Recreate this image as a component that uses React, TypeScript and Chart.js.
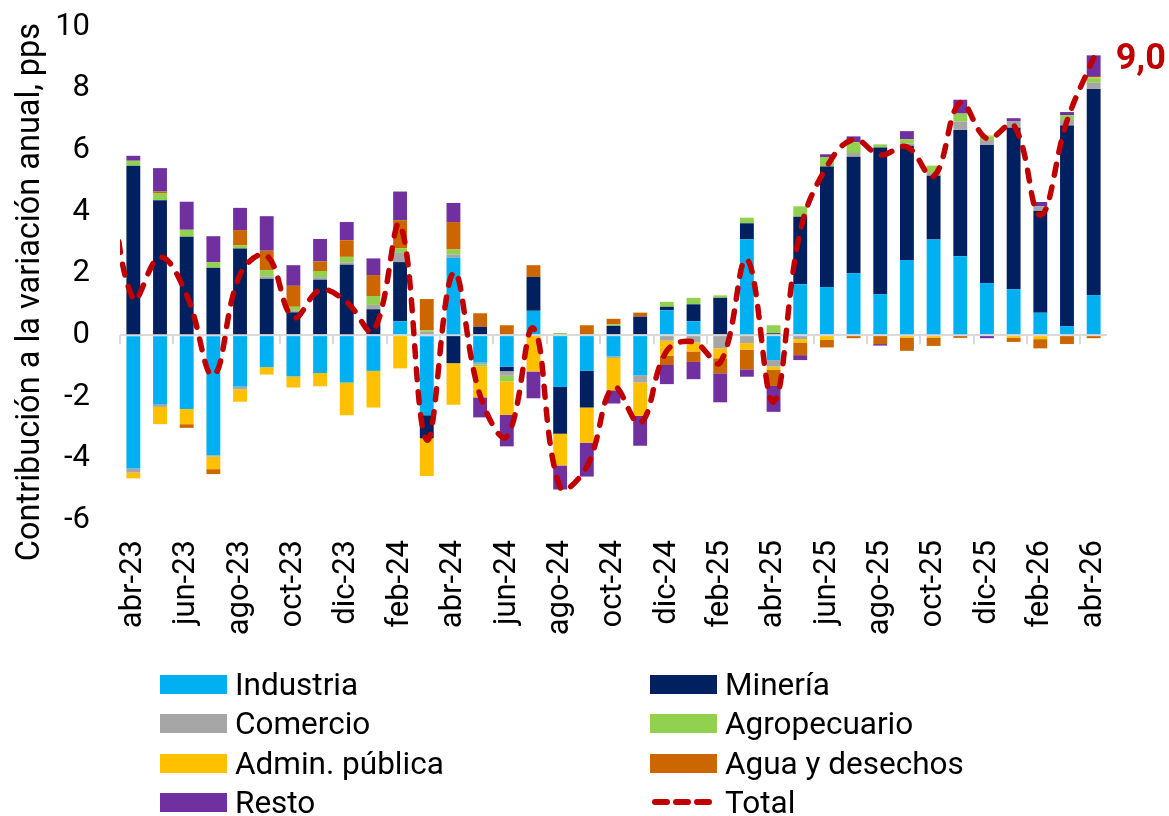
import React, { useEffect, useRef } from 'react';
import { Chart, registerables } from 'chart.js';

Chart.register(...registerables);

const FONT = 'Roboto, "Noto Sans", "DejaVu Sans", sans-serif';

const months = [
  'abr-23', 'may-23', 'jun-23', 'jul-23', 'ago-23', 'sep-23', 'oct-23', 'nov-23', 'dic-23',
  'ene-24', 'feb-24', 'mar-24', 'abr-24', 'may-24', 'jun-24', 'jul-24', 'ago-24', 'sep-24',
  'oct-24', 'nov-24', 'dic-24', 'ene-25', 'feb-25', 'mar-25', 'abr-25', 'may-25', 'jun-25',
  'jul-25', 'ago-25', 'sep-25', 'oct-25', 'nov-25', 'dic-25', 'ene-26', 'feb-26', 'mar-26', 'abr-26',
];

const industria = [
  -4.33, -2.24, -2.40, -3.90, -1.67, -1.04, -1.34, -1.23, -1.54, -1.16, 0.45, -2.60, 2.51,
  -0.89, -1.02, 0.79, -1.68, -1.16, -0.69, -1.30, 0.81, 0.45, 0.0, 3.11, -0.81, 1.65, 1.56,
  2.01, 1.33, 2.44, 3.10, 2.56, 1.69, 1.49, 0.73, 0.29, 1.30,
];
const mineria = [
  5.50, 4.38, 3.19, 2.19, 2.81, 1.83, 0.74, 1.80, 2.28, 0.84, 1.92, -0.75, -0.91,
  0.27, -0.15, 1.10, -1.52, -1.19, 0.30, 0.60, 0.11, 0.55, 1.21, 0.52, 0.06, 2.19, 3.91,
  3.78, 4.76, 3.71, 2.07, 4.10, 4.48, 5.24, 3.31, 6.51, 6.69,
];
const comercio = [
  -0.13, -0.09, 0.0, -0.04, -0.09, 0.08, 0.05, 0.08, 0.08, 0.14, 0.30, 0.11, 0.11,
  -0.06, -0.15, 0.0, 0.0, 0.0, -0.05, -0.24, -0.18, -0.24, -0.43, -0.26, -0.21, -0.13, 0.0,
  0.12, 0.0, 0.07, 0.09, 0.27, 0.16, 0.22, 0.14, 0.21, 0.20,
];
const agropecuario = [
  0.16, 0.23, 0.23, 0.18, 0.10, 0.20, 0.13, 0.20, 0.18, 0.29, 0.15, 0.05, 0.16,
  -0.06, -0.18, 0.0, 0.07, 0.0, 0.05, 0.0, 0.16, 0.21, 0.08, 0.18, 0.26, 0.34, 0.31,
  0.35, 0.10, 0.14, 0.24, 0.26, 0.12, 0.0, 0.0, 0.13, 0.15,
];
const adminPublica = [
  -0.19, -0.56, -0.49, -0.41, -0.40, -0.24, -0.36, -0.43, -1.06, -1.19, -1.08, -1.22, -1.35,
  -1.01, -1.09, -1.18, -1.03, -1.14, -1.05, -1.08, -0.49, -0.29, -0.32, -0.21, -0.11, -0.11, -0.15,
  0.0, 0.0, -0.08, -0.08, 0.0, 0.03, -0.08, -0.13, 0.0, 0.04,
];
const aguaDesechos = [
  0.0, 0.05, -0.12, -0.16, 0.50, 0.63, 0.68, 0.31, 0.54, 0.68, 0.91, 1.01, 0.89,
  0.44, 0.32, 0.38, 0.0, 0.32, 0.18, 0.13, -0.30, -0.34, -0.49, -0.64, -0.52, -0.41, -0.25,
  -0.10, -0.29, -0.43, -0.27, -0.09, 0.0, -0.14, -0.30, -0.29, -0.10,
];
const resto = [
  0.16, 0.76, 0.91, 0.84, 0.72, 1.12, 0.67, 0.73, 0.59, 0.54, 0.93, 0.0, 0.62,
  -0.65, -1.02, -0.87, -0.78, -1.10, -0.43, -0.97, -0.62, -0.56, -0.94, -0.24, -0.84, -0.16, 0.09,
  0.19, -0.05, 0.26, 0.0, 0.45, -0.10, 0.09, 0.14, 0.10, 0.70,
];
const total = [
  1.17, 2.53, 1.30, -1.30, 1.97, 2.58, 0.57, 1.46, 1.07, 0.14, 3.58, -3.40, 2.03,
  -1.96, -3.29, 0.22, -4.94, -4.27, -1.69, -2.86, -0.51, -0.22, -0.89, 2.46, -2.17, 3.37, 5.47,
  6.35, 5.85, 6.11, 5.15, 7.55, 6.38, 6.82, 3.89, 6.95, 9.0,
];
// value of the month before abr-23; only its edge of the curve is visible
const totalBefore = 6.0;

const yTicks = { min: -6, max: 10, step: 2 };
const yTitle = 'Contribución a la variación anual, pps';

const seriesNames = ['Industria', 'Minería', 'Comercio', 'Agropecuario', 'Admin. pública', 'Agua y desechos', 'Resto'];
const seriesColors = ['#00B0F0', '#002060', '#A6A6A6', '#92D050', '#FFC000', '#CC6600', '#7030A0'];
const seriesData = [industria, mineria, comercio, agropecuario, adminPublica, aguaDesechos, resto];
const totalName = 'Total';
const totalColor = '#C00000';

const legendRows = [
  [0, 1],
  [2, 3],
  [4, 5],
  [6, -1],
];

export default function App() {
  const ref = useRef<HTMLCanvasElement | null>(null);

  useEffect(() => {
    const canvas = ref.current;
    if (!canvas) return;

    const barSets = seriesData.map((d, i) => ({
      type: 'bar' as const,
      label: seriesNames[i],
      data: d,
      backgroundColor: seriesColors[i],
      borderWidth: 0,
      barPercentage: 0.52,
      categoryPercentage: 1,
      grouped: false,
      stack: 'sectores',
      xAxisID: 'x',
      yAxisID: 'y',
      order: 1,
    }));

    const lineData = [{ x: -1, y: totalBefore }, ...total.map((v, i) => ({ x: i, y: v }))];

    const decor = {
      id: 'decor',
      beforeDatasetsDraw(chart: any) {
        const { ctx, scales } = chart;
        const x = scales.x;
        const y = scales.y;
        const y0 = y.getPixelForValue(0);
        const half = (x.getPixelForValue(1) - x.getPixelForValue(0)) / 2;
        ctx.save();
        ctx.strokeStyle = '#D9D9D9';
        ctx.lineWidth = 2;
        for (let i = 0; i < months.length; i += 2) {
          const px = Math.round(x.getPixelForValue(i) - half);
          ctx.beginPath();
          ctx.moveTo(px, y0);
          ctx.lineTo(px, y0 + 9);
          ctx.stroke();
        }
        ctx.restore();
      },
      afterDatasetsDraw(chart: any) {
        const { ctx } = chart;
        const meta = chart.getDatasetMeta(seriesData.length);
        const pt = meta.data[meta.data.length - 1];
        ctx.save();
        if (pt) {
          ctx.fillStyle = totalColor;
          ctx.font = `bold 36px ${FONT}`;
          ctx.textAlign = 'left';
          ctx.textBaseline = 'middle';
          ctx.fillText(total[total.length - 1].toFixed(1).replace('.', ','), pt.x + 22, pt.y + 2);
        }
        // y-axis title
        ctx.translate(39, 292);
        ctx.rotate(-Math.PI / 2);
        ctx.fillStyle = '#000';
        ctx.font = `32.5px ${FONT}`;
        ctx.textAlign = 'center';
        ctx.textBaseline = 'alphabetic';
        ctx.fillText(yTitle, 0, 0);
        ctx.restore();
      },
    };

    const chart = new Chart(canvas, {
      data: {
        labels: months,
        datasets: [
          ...barSets,
          {
            type: 'line' as const,
            label: totalName,
            data: lineData as any,
            borderColor: totalColor,
            backgroundColor: totalColor,
            borderWidth: 5.5,
            borderDash: [11, 12],
            borderCapStyle: 'round',
            pointRadius: 0,
            tension: 0.4,
            fill: false,
            xAxisID: 'x2',
            yAxisID: 'y2',
            order: 0,
          } as any,
        ],
      },
      options: {
        animation: false,
        responsive: false,
        devicePixelRatio: 1,
        layout: { padding: { top: 27, right: 62, left: 0, bottom: 0 } },
        plugins: {
          legend: { display: false },
          tooltip: { enabled: false },
        },
        scales: {
          x: {
            type: 'category',
            stacked: true,
            offset: true,
            grid: { display: false, drawTicks: false },
            border: { display: false },
            ticks: {
              autoSkip: false,
              minRotation: 90,
              maxRotation: 90,
              padding: 20,
              color: '#000',
              font: { family: FONT, size: 31 },
              callback: (_v: any, i: number) => (i % 2 === 0 ? months[i] : ''),
            },
            afterFit: (s: any) => {
              s.height = 296;
              s.paddingLeft = 0;
              s.paddingRight = 0;
            },
          },
          x2: {
            type: 'linear',
            display: false,
            min: -0.5,
            max: months.length - 0.5,
            bounds: 'data',
          },
          y: {
            stacked: true,
            min: yTicks.min,
            max: yTicks.max,
            border: { display: false },
            grid: {
              drawTicks: false,
              lineWidth: 2,
              color: (c: any) => (c.tick && c.tick.value === 0 ? '#D9D9D9' : 'rgba(0,0,0,0)'),
            },
            ticks: {
              stepSize: yTicks.step,
              padding: 30,
              color: '#000',
              font: { family: FONT, size: 31 },
              callback: (v: any) => String(v),
            },
            title: { display: false, text: yTitle },
            afterFit: (s: any) => {
              s.width = 120;
              s.paddingTop = 0;
              s.paddingBottom = 0;
            },
          },
          y2: {
            display: false,
            min: yTicks.min,
            max: yTicks.max,
          },
        },
      } as any,
      plugins: [decor],
    });

    return () => chart.destroy();
  }, []);

  const colX = [160, 650];
  const rowY = [684, 723, 763, 802];

  return (
    <div style={{ position: 'absolute', left: 0, top: 0, width: 1169, height: 816, background: '#fff', overflow: 'hidden' }}>
      <canvas ref={ref} width={1169} height={816} style={{ position: 'absolute', left: 0, top: 0 }} />
      {legendRows.map((row, r) =>
        row.map((si, c) => {
          const isTotal = si === -1;
          const label = isTotal ? totalName : seriesNames[si];
          return (
            <div
              key={`${r}-${c}`}
              style={{
                position: 'absolute',
                left: colX[c],
                top: rowY[r] - 20,
                height: 40,
                display: 'flex',
                alignItems: 'center',
                fontFamily: FONT,
                fontSize: 31.5,
                color: '#000',
                whiteSpace: 'nowrap',
              }}
            >
              {isTotal ? (
                <svg width={67} height={20} style={{ marginRight: 8 }}>
                  <line x1={5} y1={10} x2={63} y2={10} stroke={totalColor} strokeWidth={6} strokeDasharray="12 9" strokeLinecap="round" />
                </svg>
              ) : (
                <div style={{ width: 67, height: 19, background: seriesColors[si], marginRight: 8 }} />
              )}
              <span>{label}</span>
            </div>
          );
        })
      )}
    </div>
  );
}
